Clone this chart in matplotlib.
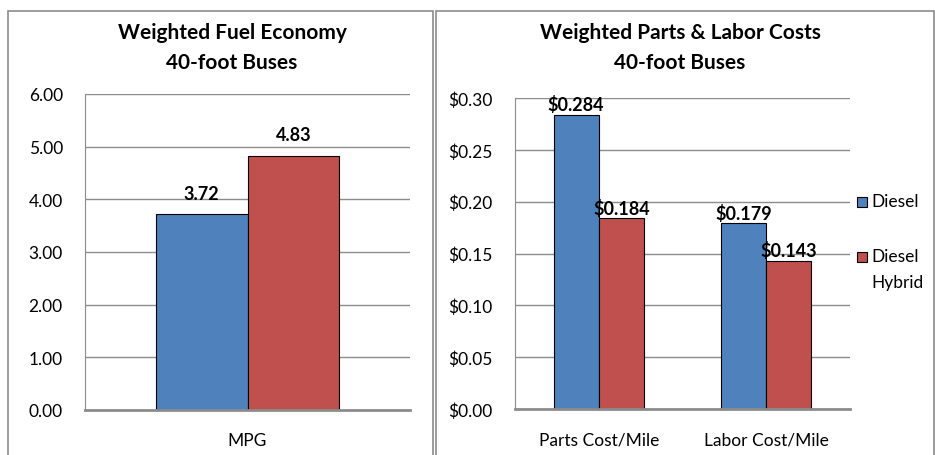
import matplotlib.pyplot as plt
from matplotlib.patches import Rectangle
import numpy as np

plt.rcParams['font.family'] = ['Lato', 'DejaVu Sans']

# Data
series = ['Diesel', 'Diesel\nHybrid']
mpg_cats = ['MPG']
mpg_vals = [[3.72], [4.83]]
cost_cats = ['Parts Cost/Mile', 'Labor Cost/Mile']
cost_vals = [[0.284, 0.179], [0.184, 0.143]]
mpg_ticks = [0, 1, 2, 3, 4, 5, 6]
cost_ticks = [0, 0.05, 0.10, 0.15, 0.20, 0.25, 0.30]

colors = ['#4F81BD', '#C0504D']
W, H = 935, 456

fig = plt.figure(figsize=(W / 100, H / 100), dpi=100)

def px_axes(x0, y0, x1, y1):
    # pixel box (top-left origin) -> figure axes
    return fig.add_axes([x0 / W, (H - y1) / H, (x1 - x0) / W, (y1 - y0) / H])

# panel frames
for (x0, x1) in [(8, 433), (436, 934)]:
    fig.patches.append(Rectangle((x0 / W, -0.02), (x1 - x0) / W, (H - 12) / H + 0.02,
                                 transform=fig.transFigure, fill=False,
                                 edgecolor='#8c8c8c', linewidth=1.2))

def style(ax, ticks, fmt):
    ax.set_yticks(ticks)
    ax.set_yticklabels([fmt(t) for t in ticks], fontsize=12.5)
    ax.set_ylim(ticks[0], ticks[-1])
    ax.grid(axis='y', color='#8c8c8c', linewidth=1)
    ax.set_axisbelow(True)
    for s in ['top', 'right']:
        ax.spines[s].set_visible(False)
    ax.spines['left'].set_color('#8c8c8c')
    ax.spines['bottom'].set_color('#8c8c8c')
    ax.spines['bottom'].set_linewidth(2)
    ax.tick_params(axis='y', length=0, pad=16)
    ax.tick_params(axis='x', length=0, pad=16, labelsize=12.5)

# Left: fuel economy
ax1 = px_axes(85, 95, 410, 411)
x = np.arange(len(mpg_cats))
bw = 0.283
for i, vals in enumerate(mpg_vals):
    pos = x + (i - 0.5) * bw
    bars = ax1.bar(pos, vals, bw, color=colors[i], edgecolor='black', linewidth=0.8)
    for b, v in zip(bars, vals):
        ax1.annotate(f'{v:.2f}', (b.get_x() + bw / 2, v), xytext=(0, 9),
                     textcoords='offset points', ha='center', va='bottom',
                     fontsize=13, fontweight='bold')
ax1.set_xlim(-0.5, 0.5)
ax1.set_xticks(x)
ax1.set_xticklabels(mpg_cats)
style(ax1, mpg_ticks, lambda t: f'{t:.2f}')
fig.text(232 / W, 1 - 48 / H, 'Weighted Fuel Economy\n40-foot Buses', ha='center', va='center',
         fontsize=15, fontweight='bold', linespacing=1.65)

# Right: parts & labor
ax2 = px_axes(515, 99, 850, 410)
x = np.arange(len(cost_cats))
bw = 0.27
for i, vals in enumerate(cost_vals):
    pos = x + (i - 0.5) * bw
    bars = ax2.bar(pos, vals, bw, color=colors[i], edgecolor='black', linewidth=0.8)
    for b, v in zip(bars, vals):
        ax2.annotate(f'${v:.3f}', (b.get_x() + bw / 2, v), xytext=(0, 1),
                     textcoords='offset points', ha='center', va='bottom',
                     fontsize=13, fontweight='bold')
ax2.set_xlim(-0.5, 1.5)
ax2.set_xticks(x)
ax2.set_xticklabels(cost_cats)
style(ax2, cost_ticks, lambda t: f'${t:.2f}')
fig.text(680 / W, 1 - 48 / H, 'Weighted Parts & Labor Costs\n40-foot Buses', ha='center', va='center',
         fontsize=15, fontweight='bold', linespacing=1.65)

# legend, drawn by hand so the marker sits on the first text line
for i, (name, c) in enumerate(zip(series, colors)):
    yc = 203 + 55 * i
    fig.patches.append(Rectangle((857 / W, 1 - (yc + 5) / H), 10 / W, 10 / H,
                                 transform=fig.transFigure, facecolor=c,
                                 edgecolor='black', linewidth=0.8))
    fig.text(871 / W, 1 - (yc - 9) / H, name, ha='left', va='top',
             fontsize=12.5, linespacing=1.75)

fig.savefig('out.png', dpi=100, facecolor='white')
